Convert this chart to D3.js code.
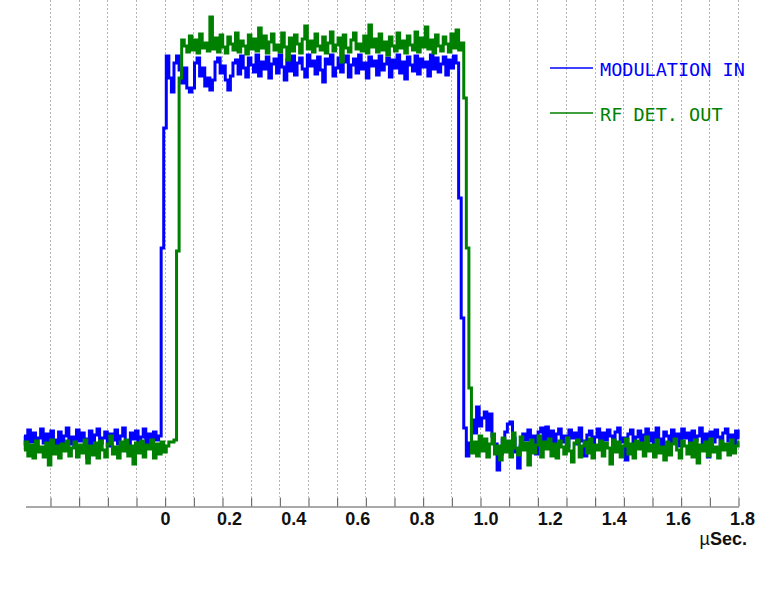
<!DOCTYPE html>
<html>
<head>
<meta charset="utf-8">
<script src="https://cdn.jsdelivr.net/npm/d3@7/dist/d3.min.js"></script>
<style>
  html, body { margin: 0; padding: 0; background: #fff; }
  svg { display: block; }
</style>
</head>
<body>
<svg id="chart" width="768" height="600"></svg>
<script>
// ---- data ----
const tStart = -0.44;      // µs, time of first sample
const tStep = 0.008;       // µs, sample spacing
const tickLabels = [0, 0.2, 0.4, 0.6, 0.8, 1.0, 1.2, 1.4, 1.6, 1.8];
const seriesNames = ["MODULATION IN", "RF DET. OUT"];
const divisions = d3.range(0, 25);   // scope graticule divisions

// MODULATION IN (mV-like units, low ~ 0, high ~ 400)
const modulationIn = [
  12, 4, 18, 6, 15, 2, 10, 19, 5, 14, 3, 17, 8, -2, 16, 6, 12, 20, 4, 11,
  2, 18, 7, 15, 9, -10, 17, 3, 13, 19, 5, 10, 16, 2, 14, 8, 18, 4, 12, 20,
  6, -4, 15, 9, 17, 3, 11, 19, 5, 14, 2, 16, 8,
  12, 200, 320, 392,
  370, 356, 385, 392, 378, 365, 380, 360, 356, 360, 385, 390, 372, 380, 362, 370,
  358, 368, 386, 390, 375, 382, 368, 358, 372, 385,
  388, 374, 392, 380, 371, 390, 383, 376, 393, 372,
  386, 379, 391, 370, 384, 389, 375, 393, 381, 368,
  388, 377, 392, 373, 385, 390, 379, 371, 393, 382,
  387, 374, 391, 378, 366, 389, 384, 393, 372, 380,
  390, 376, 386, 392, 371, 383, 389, 375, 393, 379,
  385, 370, 391, 382, 387, 373, 392, 378, 384, 390,
  371, 388, 380, 393, 375, 386, 369, 391, 383, 377,
  392, 374, 389, 381, 386, 372, 393, 379, 390, 376,
  384, 391, 373, 388, 380, 392, 385,
  250, 130, 20, -8,
  5, 28, 15, 41, 22, 30, 36, 18, 34, 12, 4, -22, -6, 8, 16, 24, 26, 10, -4, -20,
  2, 14, 8, 18, 4, 12, -6, 16, 20, 6, 21,
  9, 17, 3, 14, 19, 6, 12, 2, 18, 10, 15, 4, 20, 7, -8, 13, 17, 5, 11, 19,
  2, 15, 8, 18, 12, 3, 16, 20, 6, 10, -12, 14, 18, 4, 11, 17, 2, 13, 19, 7,
  15, 5, 20, 9, 3, 16, 12, -5, 18, 6, 14, 2, 19, 10, 15, 4, 17, 8, 12, 20,
  3, 14, -9, 16, 6, 18, 11, 2, 15, 19, 7, 13, 4, 17, 10
];

// RF DET. OUT
const rfDetOut = [
  -2, 6, -8, 3, -10, 7, -4, 1, -9, 5, -17, 8, -6, 2, -10, 4, -3, 7, -8, 0,
  6, -9, 3, -5, 8, -15, 2, -7, 5, -10, 7, -2, -9, 4, 12, -6, 1, -10, 6, -3,
  8, -8, 2, -16, 5, -5, 7, -9, 3, -1, 8, -10, 4, -6, 6, -4, 2,
  6, 6,
  8, 197, 370, 408,
  402, 396, 412, 398, 408, 395, 414, 400, 405, 397,
  431, 399, 410, 396, 413, 401, 395, 411, 404, 398,
  415, 396, 407, 402, 394, 413, 399, 409, 397, 420,
  400, 412, 395, 406, 414, 398, 403, 396, 415, 401,
  388, 410, 397, 413, 404, 395, 409, 422, 399, 407,
  396, 414, 402, 398, 411, 395, 405, 416, 397, 403,
  410, 386, 413, 400, 396, 408, 415, 399, 404, 397,
  412, 395, 423, 401, 409, 396, 414, 398, 406, 393,
  411, 402, 397, 415, 400, 407, 395, 412, 403, 398,
  416, 396, 410, 401, 421, 399, 408, 395, 413, 402,
  397, 411, 404, 396, 414, 400, 418, 398, 405,
  350, 200, 60, -5,
  6, -8, 12, -3, 9, -9, 4, 14, -6, 2, -12, 10, -4, 7, -9, 15, 0, -7, 11, -2,
  5, -17, 8, -5, 3, 12, -9, 6, -1, 9, -8, 4, -10, 7, 1, -6, 10, -3, -14, 5,
  8, -9, 2, 6, -5, 9, -10, 3, -2, 7, -8, 5, 0, -16, 8, -4, 6, -9, 2, 9,
  -6, 4, -10, 7, -1, 5, -8, 11, -3, 3, -9, 8, -5, 1, -12, 6, -7, 4, 9, -2,
  -10, 7, 2, -6, 5, -9, 8, -15, 3, -3, 6, -8, 9, -4, 1, -10, 7, -2, 4, -7,
  8, -5, 2, 6
];

const colors = ["#0000ff", "#008000"];

// ---- drawing ----
const svg = d3.select("#chart");

const x = d3.scaleLinear().domain([0, 1.8]).range([165, 742]);
const y = d3.scaleLinear().domain([0, 400]).range([448, 48]);
const xDiv = d3.scaleLinear().domain([-0.872, 24]).range([25, 738]);

const axisY = 506;

// graticule (dotted)
svg.append("g")
  .selectAll("line")
  .data(divisions)
  .join("line")
  .attr("x1", d => Math.round(xDiv(d)) + 0.5)
  .attr("x2", d => Math.round(xDiv(d)) + 0.5)
  .attr("y1", 0)
  .attr("y2", axisY - 9)
  .attr("stroke", "#b4b4b4")
  .attr("stroke-width", 1)
  .attr("stroke-dasharray", "2,2");

// axis with division ticks
const divAxis = svg.append("g")
  .attr("transform", `translate(0.5,${axisY + 0.5})`)
  .call(d3.axisBottom(xDiv).tickValues(divisions).tickSizeInner(-9).tickSizeOuter(0).tickFormat(""));
divAxis.select(".domain").attr("stroke", "#555");
divAxis.selectAll(".tick line").attr("stroke", "#555");

// time labels
const labAxis = svg.append("g")
  .attr("transform", `translate(0,${axisY})`)
  .call(d3.axisBottom(x).tickValues(tickLabels).tickSize(0).tickPadding(6)
    .tickFormat(d => d === 0 ? "0" : d3.format(".1f")(d)));
labAxis.select(".domain").remove();
labAxis.selectAll("text")
  .attr("font-family", "'Liberation Sans', Arial, sans-serif")
  .attr("font-weight", "bold")
  .attr("font-size", 18)
  .attr("fill", "#111");

const unit = svg.append("text")
  .attr("x", 747).attr("y", 545)
  .attr("text-anchor", "end")
  .attr("font-family", "'Liberation Sans', Arial, sans-serif")
  .attr("font-size", 18)
  .attr("fill", "#111");
unit.append("tspan").attr("font-weight", "normal").text("µ");
unit.append("tspan").attr("font-weight", "bold").text("Sec.");

// traces (sample-and-hold look of a digital scope)
const line = d3.line()
  .x((d, i) => x(tStart + i * tStep))
  .y(d => y(d))
  .curve(d3.curveStep);

[modulationIn, rfDetOut].forEach((vals, si) => {
  svg.append("path")
    .datum(vals)
    .attr("d", line)
    .attr("fill", "none")
    .attr("stroke", colors[si])
    .attr("stroke-width", 3)
    .attr("stroke-linejoin", "miter");
});

// legend
const legend = svg.append("g");
seriesNames.forEach((name, i) => {
  const ly = 68 + i * 45;
  legend.append("line")
    .attr("x1", 550).attr("x2", 593)
    .attr("y1", ly).attr("y2", ly)
    .attr("stroke", colors[i]).attr("stroke-width", 1.5);
  legend.append("text")
    .attr("x", 600).attr("y", ly + 7.5)
    .attr("font-family", "'DejaVu Sans Mono', monospace")
    .attr("font-size", 18.5)
    .attr("fill", colors[i])
    .text(name);
});
</script>
</body>
</html>
